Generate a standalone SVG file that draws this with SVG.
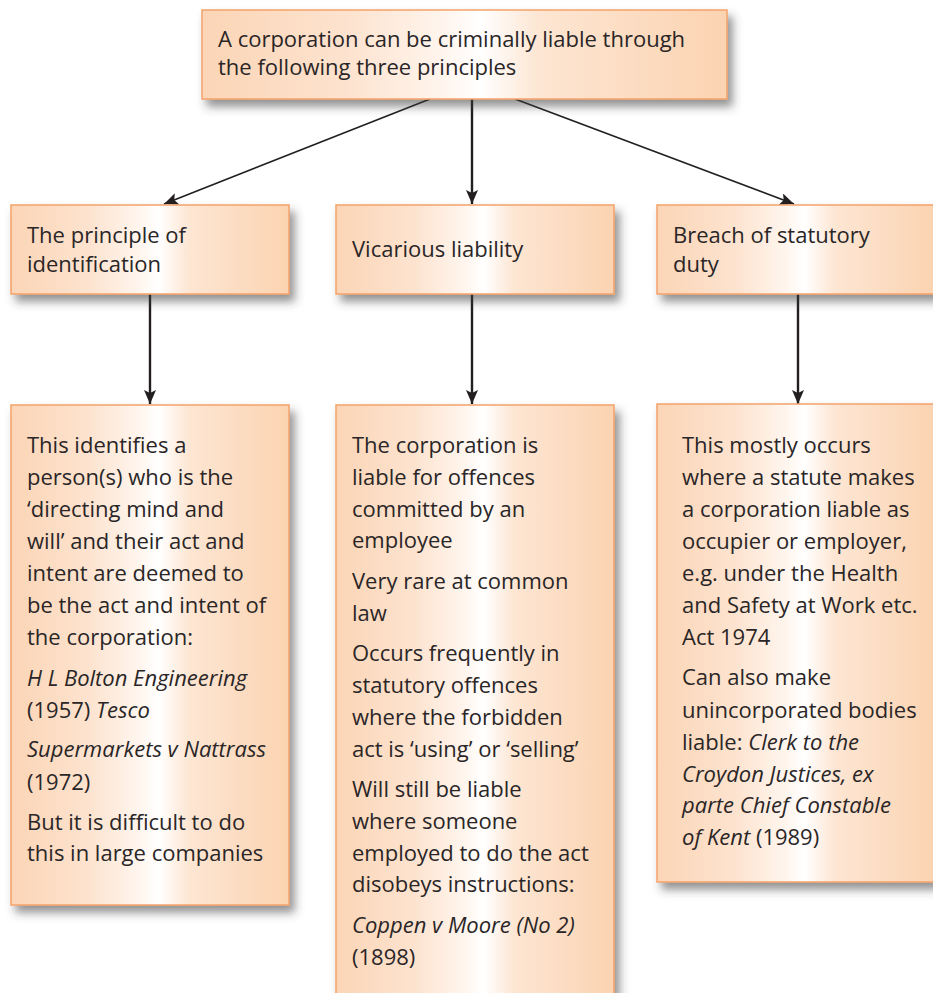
<svg xmlns="http://www.w3.org/2000/svg" width="933" height="993" viewBox="0 0 933 993">
  <defs>
    <linearGradient id="peach" x1="0" y1="0" x2="1" y2="0">
      <stop offset="0" stop-color="#fbd5b6"/>
      <stop offset="0.28" stop-color="#fde3cf"/>
      <stop offset="0.47" stop-color="#fff6ef"/>
      <stop offset="0.53" stop-color="#ffffff"/>
      <stop offset="0.64" stop-color="#fde6d3"/>
      <stop offset="1" stop-color="#fbd3b1"/>
    </linearGradient>
    <filter id="shadow" x="-10%" y="-10%" width="130%" height="130%">
      <feDropShadow dx="5" dy="7" stdDeviation="5" flood-color="#3a3a3a" flood-opacity="0.55"/>
    </filter>
    <marker id="arrow" viewBox="0 0 14 12" refX="14" refY="6" markerWidth="14" markerHeight="12" markerUnits="userSpaceOnUse" orient="auto">
      <path d="M0,0 L14,6 L0,12 L3,6 Z" fill="#231f20"/>
    </marker>
  </defs>
  <style>
    .box { fill: url(#peach); stroke: #f4a26a; stroke-width: 1.5; filter: url(#shadow); }
    .t { font-family: "Open Sans", "Noto Sans", "Liberation Sans", sans-serif; font-size: 22px; fill: #2a2627; }
    .i { font-style: italic; }
    .conn { stroke: #231f20; fill: none; }
    .diag { stroke-width: 1.6; }
    .vert { stroke-width: 2.4; }
  </style>

  <rect width="933" height="993" fill="#ffffff"/>

  <!-- connectors -->
  <g id="connectors">
    <line class="conn diag" x1="430" y1="99" x2="164" y2="204" marker-end="url(#arrow)"/>
    <line class="conn vert" x1="472" y1="99" x2="472" y2="204" marker-end="url(#arrow)"/>
    <line class="conn diag" x1="515" y1="99" x2="794" y2="204" marker-end="url(#arrow)"/>
    <line class="conn vert" x1="150" y1="294" x2="150" y2="404" marker-end="url(#arrow)"/>
    <line class="conn vert" x1="472" y1="294" x2="472" y2="404" marker-end="url(#arrow)"/>
    <line class="conn vert" x1="798" y1="294" x2="798" y2="404" marker-end="url(#arrow)"/>
  </g>

  <!-- root -->
  <g id="root">
    <rect class="box" x="202" y="10" width="525" height="89"/>
    <text class="t" x="218" y="47">A corporation can be criminally liable through</text>
    <text class="t" x="218" y="75">the following three principles</text>
  </g>

  <!-- principles -->
  <g id="identification">
    <rect class="box" x="11" y="205" width="278" height="89"/>
    <text class="t" x="27" y="243">The principle of</text>
    <text class="t" x="27" y="272">identification</text>
  </g>
  <g id="vicarious">
    <rect class="box" x="336" y="205" width="278" height="89"/>
    <text class="t" x="352" y="257">Vicarious liability</text>
  </g>
  <g id="statutory">
    <rect class="box" x="657" y="205" width="278" height="89"/>
    <text class="t" x="673" y="243">Breach of statutory</text>
    <text class="t" x="673" y="272">duty</text>
  </g>

  <!-- details -->
  <g id="identification-detail">
    <rect class="box" x="11" y="405" width="278" height="500"/>
    <text class="t" x="27" y="453">This identifies a</text>
    <text class="t" x="27" y="485">person(s) who is the</text>
    <text class="t" x="27" y="517">‘directing mind and</text>
    <text class="t" x="27" y="549">will’ and their act and</text>
    <text class="t" x="27" y="581">intent are deemed to</text>
    <text class="t" x="27" y="613">be the act and intent of</text>
    <text class="t" x="27" y="645">the corporation:</text>
    <text class="t i" x="27" y="686">H L Bolton Engineering</text>
    <text class="t" x="27" y="718">(1957) <tspan class="i">Tesco</tspan></text>
    <text class="t i" x="27" y="757">Supermarkets v Nattrass</text>
    <text class="t" x="27" y="790">(1972)</text>
    <text class="t" x="27" y="830">But it is difficult to do</text>
    <text class="t" x="27" y="861">this in large companies</text>
  </g>

  <g id="vicarious-detail">
    <rect class="box" x="336" y="405" width="278" height="600"/>
    <text class="t" x="352" y="453">The corporation is</text>
    <text class="t" x="352" y="485">liable for offences</text>
    <text class="t" x="352" y="517">committed by an</text>
    <text class="t" x="352" y="548">employee</text>
    <text class="t" x="352" y="589">Very rare at common</text>
    <text class="t" x="352" y="621">law</text>
    <text class="t" x="352" y="661">Occurs frequently in</text>
    <text class="t" x="352" y="693">statutory offences</text>
    <text class="t" x="352" y="725">where the forbidden</text>
    <text class="t" x="352" y="757">act is ‘using’ or ‘selling’</text>
    <text class="t" x="352" y="797">Will still be liable</text>
    <text class="t" x="352" y="829">where someone</text>
    <text class="t" x="352" y="861">employed to do the act</text>
    <text class="t" x="352" y="892">disobeys instructions:</text>
    <text class="t i" x="352" y="933">Coppen v Moore (No 2)</text>
    <text class="t" x="352" y="965">(1898)</text>
  </g>

  <g id="statutory-detail">
    <rect class="box" x="657" y="404" width="278" height="478"/>
    <text class="t" x="682" y="453">This mostly occurs</text>
    <text class="t" x="682" y="485">where a statute makes</text>
    <text class="t" x="682" y="517">a corporation liable as</text>
    <text class="t" x="682" y="549">occupier or employer,</text>
    <text class="t" x="682" y="581">e.g. under the Health</text>
    <text class="t" x="682" y="613">and Safety at Work etc.</text>
    <text class="t" x="682" y="645">Act 1974</text>
    <text class="t" x="682" y="685">Can also make</text>
    <text class="t" x="682" y="718">unincorporated bodies</text>
    <text class="t" x="682" y="750">liable: <tspan class="i">Clerk to the</tspan></text>
    <text class="t i" x="682" y="782">Croydon Justices, ex</text>
    <text class="t i" x="682" y="813">parte Chief Constable</text>
    <text class="t" x="682" y="845"><tspan class="i">of Kent</tspan> (1989)</text>
  </g>
</svg>
